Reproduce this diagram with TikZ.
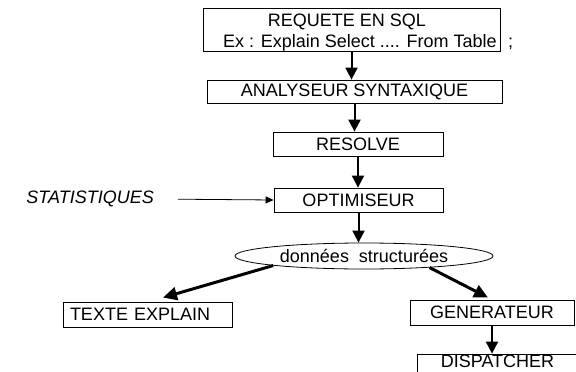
\documentclass[tikz,border=0pt]{standalone}
\usepackage{fontspec}
\setmainfont{Liberation Sans}
\usetikzlibrary{shapes.geometric,arrows.meta,calc}

\begin{document}
\begin{tikzpicture}[x=1pt,y=-1pt,
  every node/.style={font=\fontsize{18}{21}\selectfont, inner sep=0pt},
  stagebox/.style={draw, line width=0.8pt, rectangle},
  databox/.style={draw, line width=0.8pt, ellipse},
  flow/.style={-{Triangle[length=12pt,width=12pt]}, line width=2pt},
  branch/.style={-{Triangle[length=14pt,width=13pt]}, line width=3pt},
  feed/.style={-{Triangle[length=8pt,width=7pt]}, line width=0.8pt}]
\useasboundingbox (0,0) rectangle (576,372);

% query box with its two lines of text
\node[stagebox, minimum width=297pt, minimum height=43pt] (req) at (351.5,29.5) {};
\node[anchor=base] (reqA) at (347,26) {REQUETE EN SQL};
\node[anchor=base west] (reqB) at (223,47) {Ex : Explain Select .... From Table};
\node[anchor=base west] (semi) at (508,47) {;};

% processing stages
\node[stagebox, minimum width=295pt, minimum height=23.5pt] (ana) at (354.5,91.75) {ANALYSEUR SYNTAXIQUE};
\node[stagebox, minimum width=170pt, minimum height=24pt] (res) at (358,144) {RESOLVE};
\node[stagebox, minimum width=169pt, minimum height=24pt] (opt) at (358.5,200) {OPTIMISEUR};
\node[databox, minimum width=258pt, minimum height=26pt] (ell) at (364,256) {donn\'ees\hspace{10pt}structur\'ees};
\node[stagebox, text width=155pt, align=left, inner xsep=7pt, minimum height=25pt] (txt) at (147.5,314.5) {TEXTE EXPLAIN};
\node[stagebox, minimum width=164pt, minimum height=25.5pt] (gen) at (492,312.75) {GENERATEUR};
% last stage runs past the lower edge
\node[stagebox, minimum width=163pt, minimum height=40pt] (disp) at (498.5,374) {};
\node[anchor=base] (dispT) at (497.5,367.5) {DISPATCHER};

% statistics input
\node[anchor=east, font=\fontsize{18}{21}\selectfont\itshape] (stat) at (154,199) {STATISTIQUES};

% connectors
\draw[flow] (req.south) -- (req.south |- ana.north);
\draw[flow] (ana.south) -- (ana.south |- res.north);
\draw[flow] (res.south) -- (res.south |- opt.north);
\draw[flow] (opt.south) -- (opt.south |- ell.north);
\draw[branch] (ell.186) -- ($(txt.north)+(15.5,-4)$);
\draw[branch] (ell.-10) -- ($(gen.north)+(-4,-2)$);
\draw[flow] (gen.south) -- (gen.south |- disp.north);
\draw[feed, shorten <=24pt] (stat.east) -- (opt.west);
\end{tikzpicture}
\end{document}
